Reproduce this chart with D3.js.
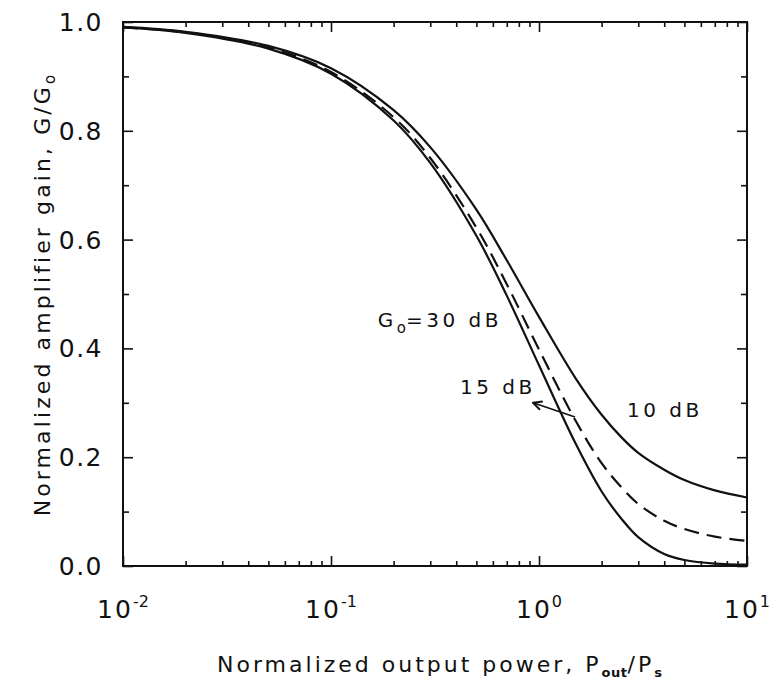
<!DOCTYPE html>
<html>
<head>
<meta charset="utf-8">
<script src="https://cdn.jsdelivr.net/npm/d3@7"></script>
<style>
  body { margin: 0; background: #fff; }
  text { font-family: "DejaVu Sans", sans-serif; fill: #111; }
  .tick line { stroke: #111; stroke-width: 1.6; }
</style>
</head>
<body>
<div id="chart"></div>
<script>
// chart size and plot box
const width = 782
const height = 680
const plotLeft = 123, plotRight = 747, plotTop = 22, plotBottom = 566

// values: normalized output power and G/G0 for each G0
const powerRatio = [0.01, 0.02, 0.05, 0.1, 0.2, 0.3, 0.5, 0.7, 1, 1.5, 2, 2.5, 3, 4, 5, 7, 10]
const gain30dB = [0.990, 0.980, 0.951, 0.905, 0.819, 0.741, 0.607, 0.497, 0.369, 0.225, 0.137, 0.086, 0.053, 0.022, 0.011, 0.0044, 0.0025]
const gain15dB = [0.990, 0.981, 0.953, 0.908, 0.825, 0.750, 0.622, 0.518, 0.398, 0.267, 0.189, 0.144, 0.114, 0.083, 0.068, 0.054, 0.046]
const gain10dB = [0.991, 0.982, 0.956, 0.915, 0.838, 0.770, 0.655, 0.562, 0.458, 0.345, 0.278, 0.236, 0.208, 0.177, 0.158, 0.139, 0.126]

const xDecades = [0.01, 0.1, 1, 10]
const xExponents = ["-2", "-1", "0", "1"]
const yTicks = [0, 0.2, 0.4, 0.6, 0.8, 1.0]
const yMinor = [0.1, 0.3, 0.5, 0.7, 0.9]

const chart = d3.select('#chart')
  .append('svg')
  .attr('width', width)
  .attr('height', height)

const x = d3.scaleLog().domain([0.01, 10]).range([plotLeft, plotRight])
const y = d3.scaleLinear().domain([0, 1]).range([plotBottom, plotTop])

const xMinor = x.ticks().filter(d => Math.abs(Math.log10(d) - Math.round(Math.log10(d))) > 1e-6)

// ticks, all pointing inward, on all four sides
const addAxis = function (axis, tx, ty) {
  const g = chart.append('g')
    .attr('transform', 'translate(' + tx + ',' + ty + ')')
    .call(axis.tickFormat(''))
  g.select('.domain').remove()
}
addAxis(d3.axisBottom(x).tickValues(xDecades).tickSize(-10), 0, plotBottom)
addAxis(d3.axisBottom(x).tickValues(xMinor).tickSize(-5), 0, plotBottom)
addAxis(d3.axisTop(x).tickValues(xDecades).tickSize(-10), 0, plotTop)
addAxis(d3.axisTop(x).tickValues(xMinor).tickSize(-5), 0, plotTop)
addAxis(d3.axisLeft(y).tickValues(yTicks).tickSize(-10), plotLeft, 0)
addAxis(d3.axisLeft(y).tickValues(yMinor).tickSize(-6), plotLeft, 0)
addAxis(d3.axisRight(y).tickValues(yTicks).tickSize(-10), plotRight, 0)
addAxis(d3.axisRight(y).tickValues(yMinor).tickSize(-6), plotRight, 0)

// frame
chart.append('rect')
  .attr('x', plotLeft).attr('y', plotTop)
  .attr('width', plotRight - plotLeft).attr('height', plotBottom - plotTop)
  .attr('fill', 'none').attr('stroke', '#111').attr('stroke-width', 2)

// y tick labels
chart.selectAll('.ylabel')
  .data(yTicks)
  .enter().append('text')
  .attr('class', 'ylabel')
  .attr('x', plotLeft - 20)
  .attr('y', d => y(d))
  .attr('dy', '0.36em')
  .attr('text-anchor', 'end')
  .style('font-size', '25px')
  .style('letter-spacing', '1.5px')
  .text(d => d.toFixed(1))

// x tick labels, 10 with a superscript
const xl = chart.selectAll('.xlabel')
  .data(xDecades)
  .enter().append('text')
  .attr('class', 'xlabel')
  .attr('x', d => x(d))
  .attr('y', 618)
  .attr('text-anchor', 'middle')
  .style('font-size', '25px')
xl.append('tspan').style('letter-spacing', '2px').text('10')
xl.append('tspan').attr('dy', -11).style('font-size', '16px').text((d, i) => xExponents[i])

// axis titles
const xt = chart.append('text')
  .attr('x', (plotLeft + plotRight) / 2 + 6)
  .attr('y', 672)
  .attr('text-anchor', 'middle')
  .style('font-size', '22px')
  .style('letter-spacing', '3px')
xt.append('tspan').text('Normalized output power, P')
xt.append('tspan').attr('dy', 5).style('font-size', '13px').style('font-weight', 'bold').style('letter-spacing', '0.5px').text('out')
xt.append('tspan').attr('dy', -5).text('/P')
xt.append('tspan').attr('dy', 5).style('font-size', '13px').style('font-weight', 'bold').text('s')

const yt = chart.append('text')
  .attr('transform', 'translate(50,' + ((plotTop + plotBottom) / 2) + ') rotate(-90)')
  .attr('text-anchor', 'middle')
  .style('font-size', '22px')
  .style('letter-spacing', '3.1px')
yt.append('tspan').text('Normalized amplifier gain, G/G')
yt.append('tspan').attr('dy', 5).style('font-size', '15px').text('o')

// curves
const line = d3.line()
  .x((d, i) => x(powerRatio[i]))
  .y(d => y(d))
  .curve(d3.curveCatmullRom.alpha(0.5))

const series = [
  { values: gain30dB, dash: null },
  { values: gain15dB, dash: '15,8' },
  { values: gain10dB, dash: null }
]

chart.selectAll('.curve')
  .data(series)
  .enter().append('path')
  .attr('class', 'curve')
  .attr('d', d => line(d.values))
  .attr('fill', 'none')
  .attr('stroke', '#111')
  .attr('stroke-width', 2.2)
  .attr('stroke-dasharray', d => d.dash)

// annotations
const label = function (px, gy, main, sub, rest) {
  const t = chart.append('text')
    .attr('x', x(px)).attr('y', y(gy))
    .style('font-size', '20px')
    .style('letter-spacing', '3.5px')
  t.append('tspan').text(main)
  if (sub) {
    t.append('tspan').attr('dy', 6).style('font-size', '15px').style('letter-spacing', '0px').text(sub)
    t.append('tspan').attr('dy', -6).text(rest)
  }
}
label(0.168, 0.439, 'G', 'o', '=30 dB')
label(0.417, 0.316, '15 dB')
label(2.65, 0.274, '10 dB')

chart.append('defs').append('marker')
  .attr('id', 'arrow')
  .attr('viewBox', '0 0 10 10')
  .attr('refX', 9).attr('refY', 5)
  .attr('markerWidth', 11).attr('markerHeight', 11)
  .attr('markerUnits', 'userSpaceOnUse')
  .attr('orient', 'auto')
  .append('path')
  .attr('d', 'M1,1 L9,5 L1,9')
  .attr('fill', 'none')
  .attr('stroke', '#111')
  .attr('stroke-width', 1.8)

chart.append('line')
  .attr('x1', x(1.49)).attr('y1', y(0.274))
  .attr('x2', x(0.936)).attr('y2', y(0.30))
  .attr('stroke', '#111')
  .attr('stroke-width', 1.6)
  .attr('marker-end', 'url(#arrow)')
</script>
</body>
</html>
